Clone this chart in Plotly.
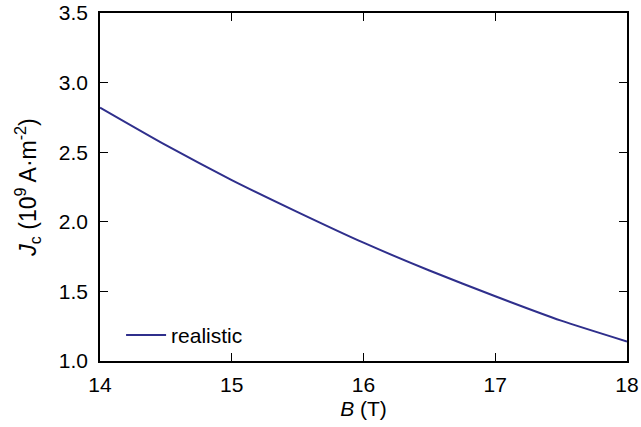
import plotly.graph_objects as go

# Critical current density versus magnetic field
field_T = [14.0, 14.5, 15.0, 15.5, 16.0, 16.5, 17.0, 17.5, 18.0]
jc_realistic = [2.82, 2.55, 2.30, 2.07, 1.85, 1.65, 1.465, 1.29, 1.14]

font_family = "Liberation Sans, Arial, sans-serif"
line_color = "#2f2f8c"
fsize = 21

fig = go.Figure()
fig.add_trace(go.Scatter(
    x=field_T, y=jc_realistic, mode="lines", name="realistic",
    line=dict(color=line_color, width=2, shape="spline", smoothing=0.6),
))

axis_common = dict(
    showline=True, linecolor="black", linewidth=1.5, mirror="ticks",
    ticks="inside", ticklen=8, tickwidth=1.2, tickcolor="black",
    showgrid=False, zeroline=False, automargin=False,
    tickfont=dict(family=font_family, size=fsize, color="black"),
)

fig.update_layout(
    width=641, height=427,
    margin=dict(l=100, r=14, t=13, b=66),
    paper_bgcolor="white", plot_bgcolor="white",
    font=dict(family=font_family, size=fsize, color="black"),
    showlegend=True,
    legend=dict(
        x=0.04, y=0.015, xanchor="left", yanchor="bottom",
        bgcolor="rgba(0,0,0,0)", font=dict(size=fsize),
        itemwidth=40,
    ),
    xaxis=dict(
        range=[14, 18], tickvals=[14, 15, 16, 17, 18],
        ticklabelstandoff=4,
        title=dict(text="<i>B</i> (T)", standoff=6,
                   font=dict(family=font_family, size=fsize)),
        **axis_common,
    ),
    yaxis=dict(
        range=[1.0, 3.5], tickvals=[1.0, 1.5, 2.0, 2.5, 3.0, 3.5],
        tickformat=".1f", ticklabelstandoff=6,
        title=dict(text="<i>J</i><sub>c</sub> (10<sup>9</sup> A·m<sup>-2</sup>)",
                   standoff=16, font=dict(family=font_family, size=23)),
        **axis_common,
    ),
)

fig.write_html("out.html")
